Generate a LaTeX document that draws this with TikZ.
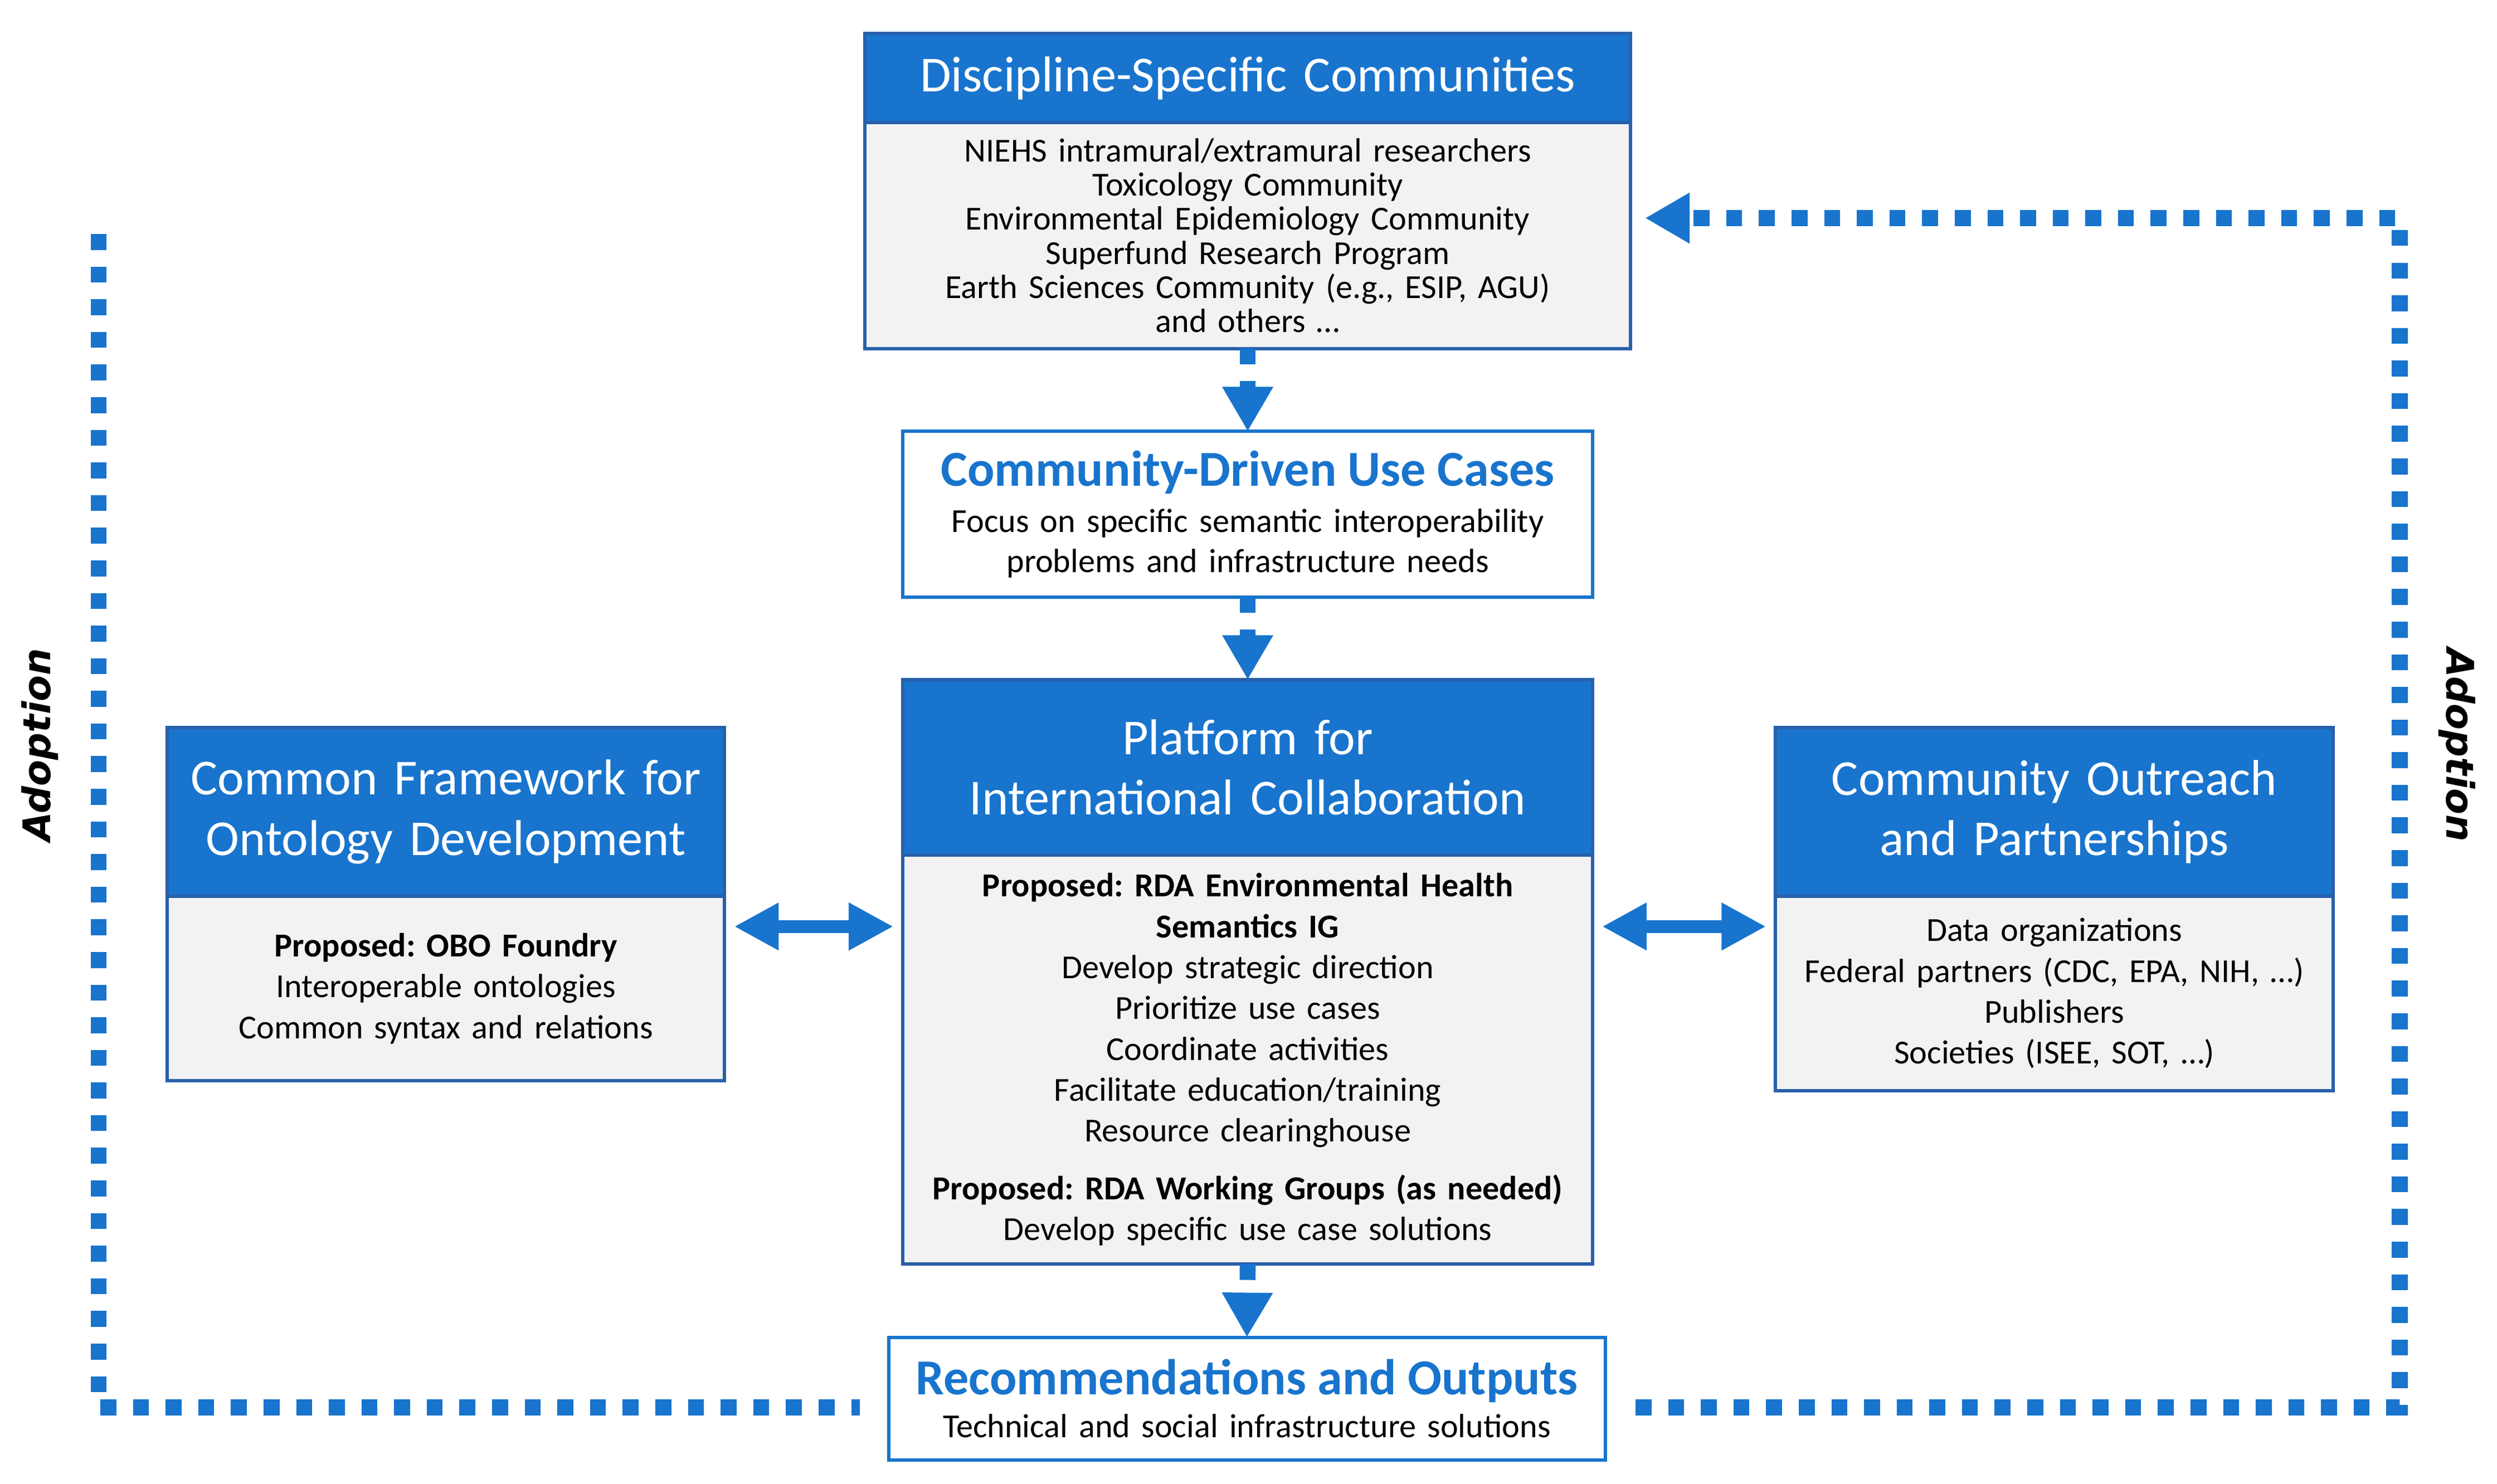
\documentclass[tikz,border=0pt]{standalone}
\usepackage{fontspec}
\setmainfont{Carlito}
\newfontfamily\adoptfont{DejaVu Sans Bold Oblique}
\usepackage{tikz}
\usetikzlibrary{arrows.meta}
\usetikzlibrary{positioning}
\definecolor{hdblue}{RGB}{24,116,205}
\definecolor{bdblue}{RGB}{40,96,170}
\definecolor{bodygray}{RGB}{242,242,242}
\frenchspacing

\begin{document}
\begin{tikzpicture}[
	hdbox/.style={draw=bdblue,semithick,fill=hdblue,text=white,align=center,inner sep=0pt,outer sep=0pt,font=\fontsize{9}{10.8}\selectfont},
	bdbox/.style={draw=bdblue,semithick,fill=bodygray,align=center,inner sep=0pt,outer sep=0pt,font=\fontsize{6}{7.3}\selectfont},
	wbox/.style={draw=hdblue,semithick,fill=white,align=center,inner sep=0pt,outer sep=0pt,font=\fontsize{6}{7.1}\selectfont},
	flowline/.style={hdblue,line width=0.1cm,dash pattern=on 0.1cm off 0.105cm,-{Triangle[length=0.28cm,width=0.3cm]}},
	adoptline/.style={hdblue,line width=0.1cm,dash pattern=on 0.1cm off 0.105cm},
	dblarrow/.style={hdblue,line width=0.08cm,{Triangle[length=0.28cm,width=0.28cm]}-{Triangle[length=0.28cm,width=0.28cm]},shorten <=0.06cm,shorten >=0.06cm},
	adopt/.style={font=\adoptfont\fontsize{6.8}{8}\selectfont}]
	\useasboundingbox (0,0) rectangle (15.68,9.32);
	% discipline communities
	\node [hdbox,text width=4.81cm,minimum height=0.56cm] (dsh) at (7.835,8.83) {Discipline-Specific Communities};
	\node [bdbox,text width=4.81cm,minimum height=1.42cm,font=\fontsize{6}{6.1}\selectfont,below=0pt of dsh] (dsb) {NIEHS intramural/extramural researchers\\Toxicology Community\\Environmental Epidemiology Community\\Superfund Research Program\\Earth Sciences Community (e.g., ESIP, AGU)\\and others \ldots};
	% use cases
	\node [wbox,text width=4.33cm,minimum height=1.04cm] (uc) at (7.835,6.09) {{\fontsize{9}{10}\selectfont\bfseries\color{hdblue}Community-Driven Use Cases}\\[1.2pt]Focus on specific semantic interoperability\\problems and infrastructure needs};
	% platform
	\node [hdbox,text width=4.33cm,minimum height=1.10cm] (pfh) at (7.835,4.50) {Platform for\\International Collaboration};
	\node [bdbox,text width=4.33cm,minimum height=2.57cm,below=0pt of pfh] (pfb) {\textbf{Proposed: RDA Environmental Health}\\\textbf{Semantics IG}\\Develop strategic direction\\Prioritize use cases\\Coordinate activities\\Facilitate education/training\\Resource clearinghouse\\[3pt]\textbf{Proposed: RDA Working Groups (as needed)}\\Develop specific use case solutions};
	% framework
	\node [hdbox,text width=3.50cm,minimum height=1.06cm] (cfh) at (2.80,4.22) {Common Framework for\\Ontology Development};
	\node [bdbox,text width=3.50cm,minimum height=1.16cm,below=0pt of cfh] (cfb) {\textbf{Proposed: OBO Foundry}\\Interoperable ontologies\\Common syntax and relations};
	% outreach
	\node [hdbox,text width=3.50cm,minimum height=1.06cm] (coh) at (12.90,4.22) {Community Outreach\\and Partnerships};
	\node [bdbox,text width=3.50cm,minimum height=1.22cm,below=0pt of coh] (cob) {Data organizations\\Federal partners (CDC, EPA, NIH, \ldots)\\Publishers\\Societies (ISEE, SOT, \ldots)};
	% outputs
	\node [wbox,text width=4.50cm,minimum height=0.77cm] (rec) at (7.83,0.535) {{\fontsize{9}{10}\selectfont\bfseries\color{hdblue}Recommendations and Outputs}\\[0.6pt]Technical and social infrastructure solutions};
	% adoption loop
	\node [adopt,rotate=90] (adl) at (0.25,4.64) {Adoption};
	\node [adopt,rotate=-90] (adr) at (15.43,4.64) {Adoption};
	\coordinate (lt) at (0.62,7.85);
	\coordinate (lb) at (0.62,0.48);
	\coordinate (rb) at (15.07,0.48);
	\coordinate (rt) at (15.07,7.95);
	\coordinate (arw) at (0,3.50);

	\foreach \from/\to in {dsb/uc, uc/pfh, pfb/rec}
		\draw [flowline] (\from.south) -- (\to.north);
	\draw [dblarrow] (cfb.east |- arw) -- (pfb.west |- arw);
	\draw [dblarrow] (pfb.east |- arw) -- (cob.west |- arw);
	\draw [adoptline,shorten >=0.18cm] (lt) -- (lb) -- (lb -| rec.west);
	\draw [flowline,shorten <=0.19cm,shorten >=0.09cm] (rb -| rec.east) -- (rb) -- (rt) -- (rt -| dsb.east);
\end{tikzpicture}
\end{document}
